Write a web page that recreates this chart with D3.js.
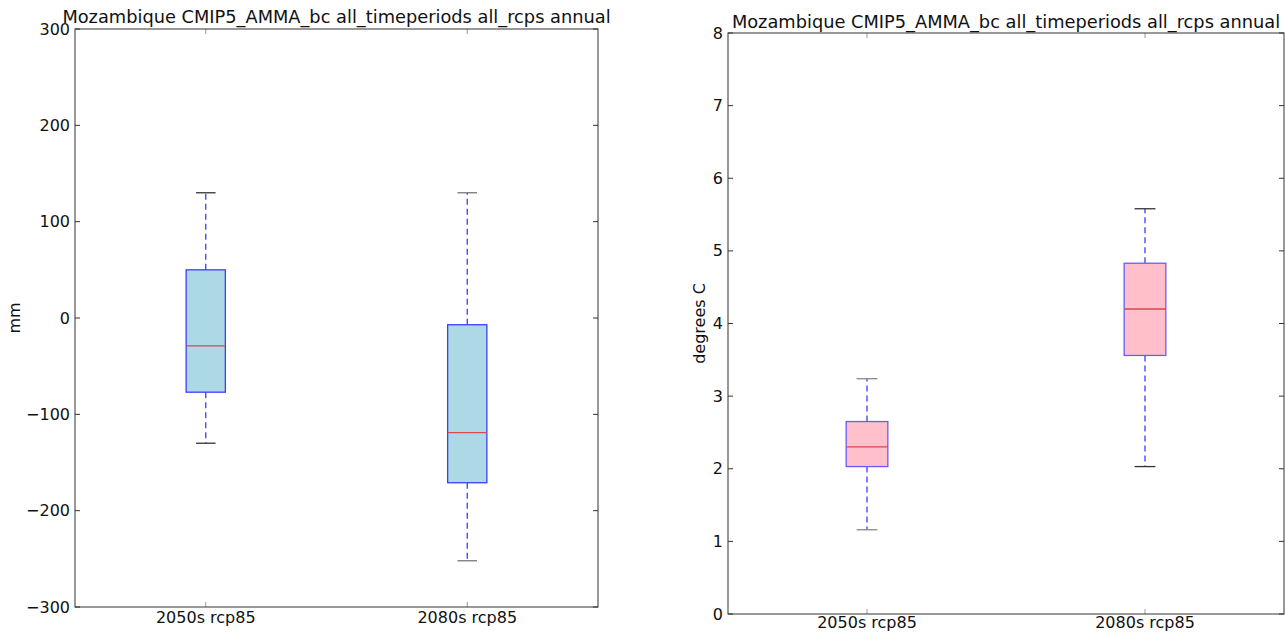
<!DOCTYPE html>
<html lang="en">
<head>
<meta charset="UTF-8">
<title>Mozambique boxplots</title>
<script src="https://d3js.org/d3.v7.min.js"></script>
<style>
  body { margin: 0; background: #fff; }
  svg { font-family: "DejaVu Sans", sans-serif; }
  .spine { fill: none; stroke: #333; stroke-width: 1; }
  .tick-txt { font-size: 16px; fill: #111; }
</style>
</head>
<body>
<svg id="chart" width="1285" height="632"></svg>
<script>
const categories = ['2050s rcp85', '2080s rcp85'];
const title = 'Mozambique CMIP5_AMMA_bc all_timeperiods all_rcps annual';

// precipitation change (mm): [whiskerLow, q1, median, q3, whiskerHigh]
const precipStats = [
  [-130, -77, -29, 50, 130],
  [-252, -171, -119, -7, 130]
];
const precipTicks = [-300, -200, -100, 0, 100, 200, 300];

// temperature change (degrees C)
const tempStats = [
  [1.16, 2.03, 2.30, 2.65, 3.24],
  [2.03, 3.56, 4.20, 4.83, 5.58]
];
const tempTicks = [0, 1, 2, 3, 4, 5, 6, 7, 8];

const svg = d3.select('#chart');

function drawPanel(opts) {
  const { left, right, top, bottom, stats, ticks, domain, ylabel, fill, edge, capColor, ylabelX, xlabelY, titleY } = opts;
  const g = svg.append('g');

  const x = d3.scaleLinear().domain([0.5, 2.5]).range([left, right]);
  const y = d3.scaleLinear().domain(domain).range([bottom, top]);
  const boxW = 0.15;

  // inward ticks on all four sides
  ticks.forEach(t => {
    g.append('line').attr('x1', left).attr('x2', left + 5).attr('y1', y(t)).attr('y2', y(t)).attr('stroke', '#333');
    g.append('line').attr('x1', right).attr('x2', right - 5).attr('y1', y(t)).attr('y2', y(t)).attr('stroke', '#333');
    g.append('text').attr('class', 'tick-txt')
      .attr('x', left - 5).attr('y', y(t)).attr('dy', '0.35em')
      .attr('text-anchor', 'end')
      .text(t < 0 ? '\u2212' + Math.abs(t) : t);
  });
  categories.forEach((c, i) => {
    const cx = x(i + 1);
    g.append('line').attr('x1', cx).attr('x2', cx).attr('y1', bottom).attr('y2', bottom - 5).attr('stroke', '#999');
    g.append('line').attr('x1', cx).attr('x2', cx).attr('y1', top).attr('y2', top + 5).attr('stroke', '#999');
    g.append('text').attr('class', 'tick-txt')
      .attr('x', cx).attr('y', xlabelY).attr('text-anchor', 'middle').text(c);
  });

  stats.forEach((s, i) => {
    const [lo, q1, med, q3, hi] = s;
    const cx = x(i + 1);
    const x0 = x(i + 1 - boxW / 2), x1 = x(i + 1 + boxW / 2);
    const c0 = x(i + 1 - boxW / 4), c1 = x(i + 1 + boxW / 4);

    // whiskers
    g.append('line').attr('x1', cx).attr('x2', cx).attr('y1', y(q3)).attr('y2', y(hi))
      .attr('stroke', '#3b3bff').attr('stroke-width', 1.3).attr('stroke-dasharray', '6,4');
    g.append('line').attr('x1', cx).attr('x2', cx).attr('y1', y(q1)).attr('y2', y(lo))
      .attr('stroke', '#3b3bff').attr('stroke-width', 1.3).attr('stroke-dasharray', '6,4');
    // caps
    g.append('line').attr('x1', c0).attr('x2', c1).attr('y1', y(hi)).attr('y2', y(hi))
      .attr('stroke', capColor[i]).attr('stroke-width', 1.3);
    g.append('line').attr('x1', c0).attr('x2', c1).attr('y1', y(lo)).attr('y2', y(lo))
      .attr('stroke', capColor[i]).attr('stroke-width', 1.3);
    // box
    g.append('rect').attr('x', x0).attr('y', y(q3))
      .attr('width', x1 - x0).attr('height', y(q1) - y(q3))
      .attr('fill', fill).attr('stroke', edge).attr('stroke-width', 1.3);
    // median
    g.append('line').attr('x1', x0).attr('x2', x1).attr('y1', y(med)).attr('y2', y(med))
      .attr('stroke', '#d9474f').attr('stroke-width', 1.3);
  });

  g.append('rect').attr('class', 'spine')
    .attr('x', left).attr('y', top).attr('width', right - left).attr('height', bottom - top);

  g.append('text').attr('x', (left + right) / 2).attr('y', titleY)
    .attr('text-anchor', 'middle').attr('font-size', 17.8).attr('fill', '#111').text(title);

  g.append('text')
    .attr('transform', `translate(${ylabelX},${(top + bottom) / 2}) rotate(-90)`)
    .attr('text-anchor', 'middle').attr('font-size', 16).attr('fill', '#111').text(ylabel);
}

drawPanel({
  left: 75, right: 598, top: 29, bottom: 607,
  stats: precipStats, ticks: precipTicks, domain: [-300, 300],
  ylabel: 'mm', fill: '#add8e6', edge: '#3d3dff', capColor: ['#333', '#777'],
  ylabelX: 20, xlabelY: 623, titleY: 23
});

drawPanel({
  left: 728, right: 1284, top: 33, bottom: 614,
  stats: tempStats, ticks: tempTicks, domain: [0, 8],
  ylabel: 'degrees C', fill: '#ffc0cb', edge: '#6a5aff', capColor: ['#888', '#333'],
  ylabelX: 705, xlabelY: 628, titleY: 28
});
</script>
</body>
</html>
